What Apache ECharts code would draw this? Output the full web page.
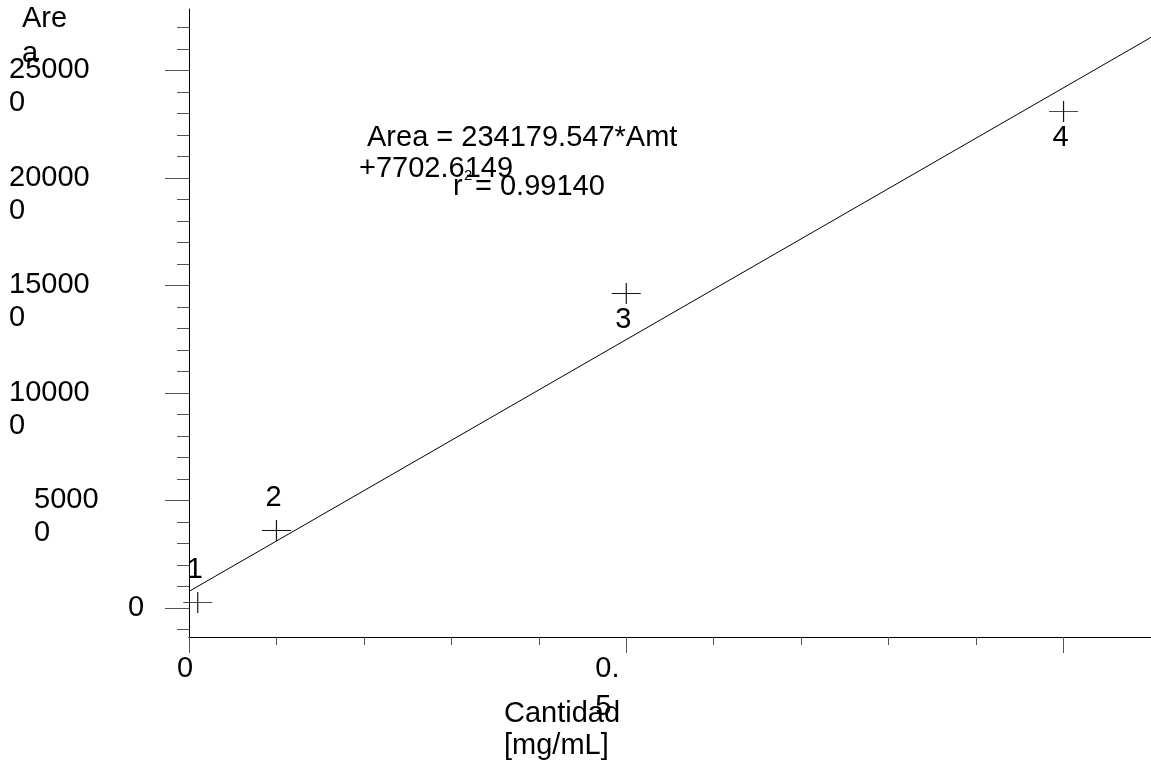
<!DOCTYPE html>
<html>
<head>
<meta charset="utf-8">
<title>Area vs Cantidad</title>
<script src="https://cdn.jsdelivr.net/npm/echarts@6/dist/echarts.min.js"></script>
<style>
  html, body { margin: 0; padding: 0; background: #fff; }
  #chart { width: 1151px; height: 769px; }
</style>
</head>
<body>
<div id="chart"></div>
<script>
// calibration points
const amounts = [0.01, 0.1, 0.5, 1.0]
const areas = [2500, 36000, 146200, 230800]
const pointLabels = ['1', '2', '3', '4']

// fitted line, read at both ends of the x axis
const fitAmounts = [0, 1.1]
const fitAreas = [7700, 265300]

// axis ticks and labels
const yMinorTicks = [-10000, 0, 10000, 20000, 30000, 40000, 50000, 60000, 70000, 80000, 90000,
    100000, 110000, 120000, 130000, 140000, 150000, 160000, 170000, 180000, 190000,
    200000, 210000, 220000, 230000, 240000, 250000, 260000, 270000]
const yMajorTicks = [0, 50000, 100000, 150000, 200000, 250000]
const xMinorTicks = [0, 0.1, 0.2, 0.3, 0.4, 0.5, 0.6, 0.7, 0.8, 0.9, 1.0, 1.1]
const xMajorTicks = [0, 0.5, 1.0]
const xLabelValues = [0, 0.5]

const yAxisName = ['Are', 'a']
const xAxisName = ['Cantidad', '[mg/mL]']
const equationLine = 'Area = 234179.547*Amt'
const interceptLine = '+7702.6149'
const rSymbol = 'r'
const rExponent = '2'
const rValue = '= 0.99140'

const FONT = '"Liberation Sans", Arial, Helvetica, sans-serif'
const FS = 29
const Y_MIN = -13500
const Y_MAX = 278500

// the original wraps long tick labels, leaving the last character alone on a second line
function wrapLast(s) {
    return s.length > 1 ? [s.slice(0, -1), s.slice(-1)] : [s]
}

function yLabel(v) {
    const s = String(v)
    const style = s.length >= 6 ? 'w6' : s.length === 5 ? 'w5' : 'w1'
    const lines = wrapLast(s)
    const body = lines.map(l => `{${style}|${l}}`).join('\n')
    // blank first line keeps the first text line centred on the tick
    return lines.length > 1 ? `{${style}| }\n` + body : body
}

function xLabel(v) {
    const lines = wrapLast(String(v))
    if (lines.length === 1) return `{z|${lines[0]}}`
    return lines.map(l => `{h|${l}}`).join('\n')
}

const chart = echarts.init(document.getElementById('chart'), null, { renderer: 'canvas' })

const tickStyle = { color: '#555', width: 1 }
const axisLineStyle = { color: '#000', width: 1 }
const txt = { fontSize: FS, fontFamily: FONT, color: '#000' }

chart.setOption({
    animation: false,
    backgroundColor: '#fff',
    textStyle: { fontFamily: FONT },
    grid: { left: 189, right: 0, top: 9, bottom: 132, outerBoundsMode: 'none' },
    xAxis: [
        {
            type: 'value', min: 0, max: 1.1, position: 'bottom',
            axisLine: { show: true, onZero: false, lineStyle: axisLineStyle },
            axisTick: { show: true, customValues: xMinorTicks, length: 8, lineStyle: tickStyle },
            axisLabel: { show: false },
            splitLine: { show: false }
        },
        {
            type: 'value', min: 0, max: 1.1, position: 'bottom',
            axisLine: { show: false, onZero: false },
            axisTick: { show: true, customValues: xMajorTicks, length: 16, lineStyle: tickStyle },
            axisLabel: {
                show: true,
                customValues: xLabelValues,
                formatter: xLabel,
                margin: 13,
                align: 'center',
                verticalAlign: 'top',
                ...txt,
                lineHeight: 38,
                rich: {
                    z: { ...txt, lineHeight: 38, padding: [0, 8, 0, 0] },
                    h: { ...txt, lineHeight: 38, width: 25, align: 'left', padding: [0, 37, 0, 0] }
                }
            },
            splitLine: { show: false },
            name: xAxisName.map(t => `{n|${t}}`).join('\n'),
            nameLocation: 'middle',
            nameGap: 61,
            nameMoveOverlap: false,
            nameTextStyle: {
                align: 'right',
                verticalAlign: 'top',
                padding: [0, 50, 0, 0],
                lineHeight: 32,
                rich: {
                    n: { ...txt, lineHeight: 32, width: 116, align: 'left' }
                }
            }
        }
    ],
    yAxis: [
        {
            type: 'value', min: Y_MIN, max: Y_MAX, position: 'left',
            axisLine: { show: true, onZero: false, lineStyle: axisLineStyle },
            axisTick: { show: true, customValues: yMinorTicks, length: 12, lineStyle: tickStyle },
            axisLabel: { show: false },
            splitLine: { show: false }
        },
        {
            type: 'value', min: Y_MIN, max: Y_MAX, position: 'left',
            axisLine: { show: false, onZero: false },
            axisTick: { show: true, customValues: yMajorTicks, length: 24, lineStyle: tickStyle },
            axisLabel: {
                show: true,
                customValues: yMajorTicks,
                formatter: yLabel,
                margin: 180,
                align: 'left',
                verticalAlign: 'middle',
                ...txt,
                lineHeight: 33,
                rich: {
                    w6: { ...txt, lineHeight: 33, padding: [0, 0, 0, 0] },
                    w5: { ...txt, lineHeight: 33, padding: [0, 0, 0, 25] },
                    w1: { ...txt, lineHeight: 33, padding: [0, 0, 0, 119] }
                }
            },
            splitLine: { show: false },
            name: yAxisName.map(t => `{a|${t}}`).join('\n'),
            nameLocation: 'end',
            nameGap: 8,
            nameMoveOverlap: false,
            nameTextStyle: {
                align: 'right',
                verticalAlign: 'top',
                padding: [0, 120, 0, 0],
                lineHeight: 35,
                rich: {
                    a: { ...txt, lineHeight: 35, width: 47, align: 'left' }
                }
            }
        }
    ],
    series: [
        {
            name: 'Ajuste',
            type: 'line',
            xAxisIndex: 0,
            yAxisIndex: 0,
            data: fitAmounts.map((x, i) => [x, fitAreas[i]]),
            showSymbol: false,
            symbol: 'none',
            lineStyle: { color: '#000', width: 1 },
            silent: true,
            z: 2
        },
        {
            name: 'Calibración',
            type: 'scatter',
            xAxisIndex: 0,
            yAxisIndex: 0,
            symbol: 'path://M0,10.5H29M14.5,0V21',
            symbolSize: [29, 21],
            itemStyle: { color: 'rgba(0,0,0,0)', borderColor: '#111', borderWidth: 1, opacity: 1 },
            data: amounts.map((x, i) => ({
                value: [x, areas[i]],
                label: { offset: i < 2 ? [-3, -33] : [-3, 26] }
            })),
            label: {
                show: true,
                position: 'inside',
                formatter: p => pointLabels[p.dataIndex],
                ...txt,
                lineHeight: 29
            },
            clip: false,
            z: 3
        }
    ],
    graphic: [
        {
            type: 'text', x: 367, y: 138,
            style: { text: equationLine, font: `${FS}px ${FONT}`, fill: '#000', textAlign: 'left', textVerticalAlign: 'middle' }
        },
        {
            type: 'text', x: 359, y: 169,
            style: { text: interceptLine, font: `${FS}px ${FONT}`, fill: '#000', textAlign: 'left', textVerticalAlign: 'middle' }
        },
        {
            type: 'text', x: 453, y: 187,
            style: { text: rSymbol, font: `${FS}px ${FONT}`, fill: '#000', textAlign: 'left', textVerticalAlign: 'middle' }
        },
        {
            type: 'text', x: 464, y: 176,
            style: { text: rExponent, font: `15px ${FONT}`, fill: '#000', textAlign: 'left', textVerticalAlign: 'middle' }
        },
        {
            type: 'text', x: 475, y: 187,
            style: { text: rValue, font: `${FS}px ${FONT}`, fill: '#000', textAlign: 'left', textVerticalAlign: 'middle' }
        }
    ]
})
</script>
</body>
</html>
